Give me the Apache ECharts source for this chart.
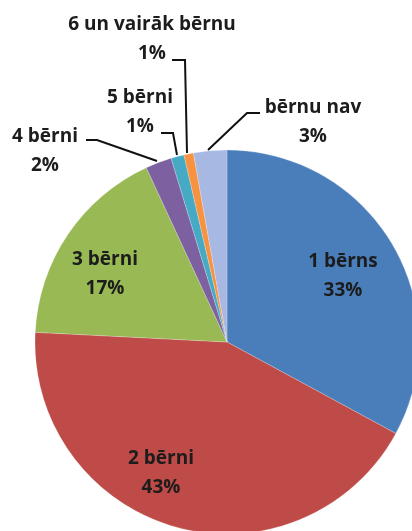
<!DOCTYPE html>
<html>
<head>
<meta charset="utf-8">
<script src="https://cdn.jsdelivr.net/npm/echarts@6/dist/echarts.min.js"></script>
<style>
  html, body { margin: 0; padding: 0; background: #fff; }
  #main { width: 412px; height: 531px; }
</style>
</head>
<body>
<div id="main"></div>
<script>
// dati
const categories = ['1 bērns', '2 bērni', '3 bērni', '4 bērni', '5 bērni', '6 un vairāk bērnu', 'bērnu nav']
const shares = [32.9, 42.9, 17.3, 2.2, 1.1, 0.8, 2.8]
const colors = ['#4A7EBB', '#BE4B48', '#98B954', '#7D60A0', '#46AAC5', '#F69240', '#A7B9E3']
// kuri uzraksti ir ārpusē
const outside = [false, false, false, true, true, true, true]

// uzrakstu centri un līniju punkti (izkārtojums)
const labelPos = [
  [343, 276], [161, 473], [105, 274], [45, 151], [140, 112], [152, 39], [313, 122]
]
const linePts = [
  null, null, null,
  [[86, 140], [97, 140], [157, 161]],
  [[161, 133], [173, 133], [177, 155]],
  [[172, 60], [185, 60], [187, 153]],
  [[260, 113], [247, 113], [208, 150]]
]

const main = echarts.init(document.getElementById('main'))

const option = {
  backgroundColor: '#ffffff',
  animation: false,
  series: [
    {
      type: 'pie',
      center: [227, 342],
      radius: 192,
      startAngle: 90,
      clockwise: true,
      avoidLabelOverlap: false,
      itemStyle: { borderColor: 'rgba(255,255,255,0.35)', borderWidth: 0.6 },
      label: {
        fontFamily: 'Open Sans',
        fontWeight: 'bold',
        fontSize: 19,
        lineHeight: 29,
        color: '#1c1c1c',
        align: 'center',
        formatter: p => p.name + '\n' + Math.round(p.value) + '%'
      },
      labelLine: {
        lineStyle: { color: '#111', width: 2 }
      },
      labelLayout: params => {
        const i = params.dataIndex
        const res = {
          x: labelPos[i][0],
          y: labelPos[i][1],
          align: 'center',
          verticalAlign: 'middle'
        }
        if (linePts[i]) res.labelLinePoints = linePts[i]
        return res
      },
      data: categories.map((name, i) => ({
        name,
        value: shares[i],
        itemStyle: { color: colors[i] },
        label: { position: outside[i] ? 'outside' : 'inside' },
        labelLine: { show: outside[i] }
      }))
    }
  ]
}

main.setOption(option)
</script>
</body>
</html>
